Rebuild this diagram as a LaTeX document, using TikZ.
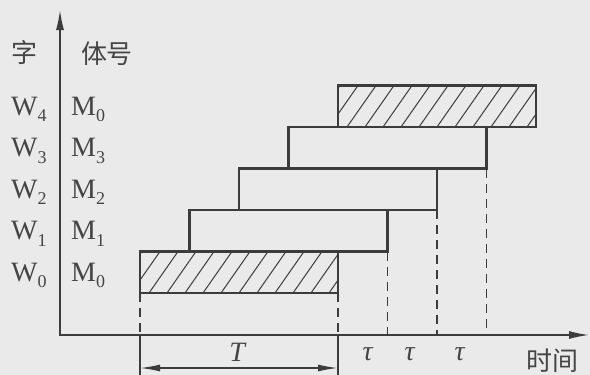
\documentclass[tikz,border=0pt]{standalone}
\usepackage{fontspec}
\setmainfont{Liberation Serif}
\newfontfamily\cjk{Noto Sans CJK SC}
\usetikzlibrary{arrows.meta}
\definecolor{inkc}{HTML}{3C3C3C}
\definecolor{txtc}{HTML}{454545}
\definecolor{bgc}{HTML}{EAEAEA}
\newcommand\lowsub[1]{\raisebox{-6.5pt}{\fontsize{18}{18}\selectfont #1}}
\begin{document}
\begin{tikzpicture}[x=1pt,y=-1pt,
  slot/.style={draw=inkc, line width=2.3pt, minimum width=198pt, minimum height=41.5pt, inner sep=0pt, outer sep=0pt, anchor=north west},
  hatched/.style={path picture={\foreach \k in {0,...,13}{\draw[inkc,line width=1pt] ([xshift=\k*18pt-27pt]path picture bounding box.south west) -- ++(29pt,41.5pt);}}},
  axis/.style={draw=inkc, line width=1.5pt},
  guide/.style={draw=inkc, line width=1.8pt, dash pattern=on 9pt off 6pt},
  lab/.style={text=txtc, font=\fontsize{28}{28}\selectfont, inner sep=0pt},
  cjklab/.style={text=txtc, font=\fontsize{26}{26}\selectfont\cjk, inner sep=0pt},
]
\useasboundingbox[fill=bgc] (0,0) rectangle (590,375);
% axes
\coordinate (O) at (60,335);
\coordinate (ytop) at (60,10);
\coordinate (xend) at (589,335);
\coordinate (bot) at (0,375);
\coordinate (tline) at (0,368);
\draw[axis, {Latex[length=20pt,width=8pt]}-{Latex[length=20pt,width=8pt]}] (ytop) -- (O) -- (xend);
% boxes
\node[slot,hatched] (w0) at (140,251.5) {};
\node[slot] (w1) at (189.5,210) {};
\node[slot] (w2) at (239,168.5) {};
\node[slot] (w3) at (288.5,127) {};
\node[slot,hatched] (w4) at (338,85.5) {};
% guides
\draw[guide] (w0.south west) -- (w0.south west |- O);
\draw[guide] (w0.south east) -- (w0.south east |- O);
\draw[guide] (w1.south east) -- (w1.south east |- O);
\draw[guide] (w2.south east) -- (w2.south east |- O);
\draw[guide] (w3.south east) -- (w3.south east |- O);
\draw[axis] (w0.south west |- O) -- (w0.south west |- bot);
\draw[axis] (w0.south east |- O) -- (w0.south east |- bot);
\draw[axis, {Latex[length=20pt,width=7pt]}-{Latex[length=20pt,width=7pt]}] (w0.south west |- tline) -- (w0.south east |- tline);
% labels
\node[cjklab] (zi) at (25,53) {字};
\node[cjklab] (tihao) at (107,54) {体号};
\node[lab, anchor=base west] (W4) at (11,115) {W\lowsub{4}};
\node[lab, anchor=base west] (W3) at (11,156.5) {W\lowsub{3}};
\node[lab, anchor=base west] (W2) at (11,198) {W\lowsub{2}};
\node[lab, anchor=base west] (W1) at (11,239.5) {W\lowsub{1}};
\node[lab, anchor=base west] (W0) at (11,281) {W\lowsub{0}};
\node[lab, anchor=base west] (M4) at (71,115) {M\lowsub{0}};
\node[lab, anchor=base west] (M3) at (71,156.5) {M\lowsub{3}};
\node[lab, anchor=base west] (M2) at (71,198) {M\lowsub{2}};
\node[lab, anchor=base west] (M1) at (71,239.5) {M\lowsub{1}};
\node[lab, anchor=base west] (M0) at (71,281) {M\lowsub{0}};
\node[lab] (T) at (238,352) {\textit{T}};
\node[lab] (tau1) at (368,354) {\textit{τ}};
\node[lab] (tau2) at (410,354) {\textit{τ}};
\node[lab] (tau3) at (460,354) {\textit{τ}};
\node[cjklab] (shijian) at (552,361) {时间};
\end{tikzpicture}
\end{document}
